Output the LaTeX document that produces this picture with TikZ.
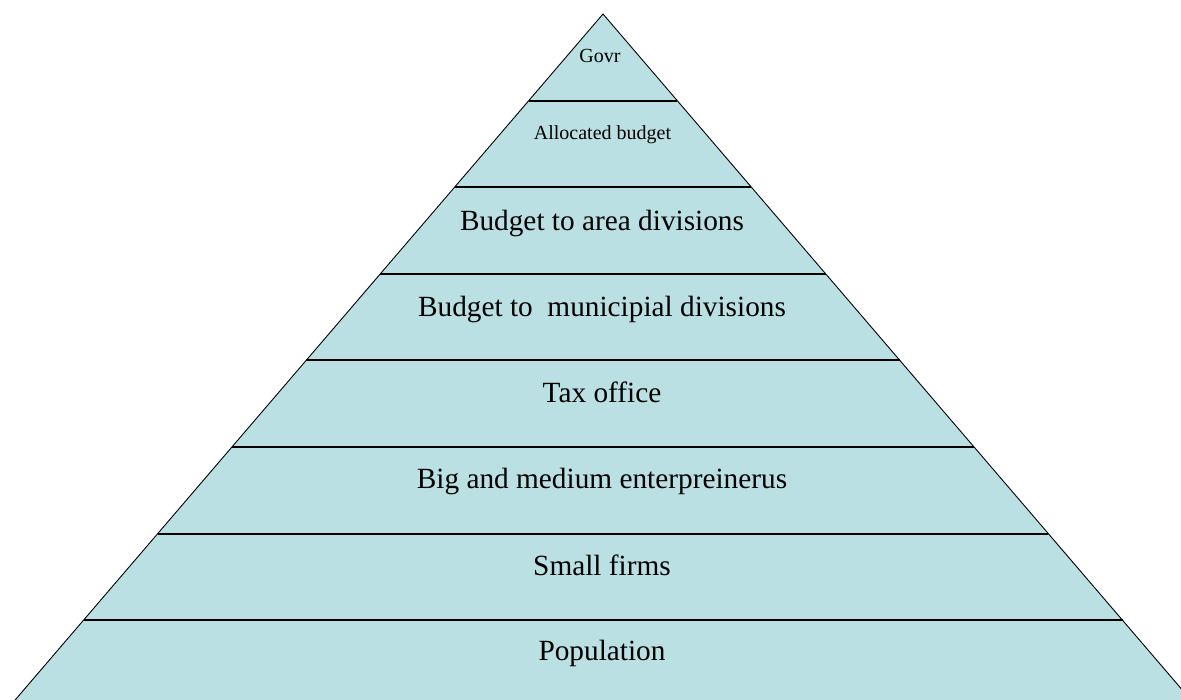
\documentclass[tikz,border=0pt]{standalone}
\usepackage{fontspec}
\setmainfont{Liberation Serif}
\definecolor{pyrfill}{RGB}{187,224,227}
\tikzset{
  smalltxt/.style={anchor=base,inner sep=0pt,font=\fontsize{20}{24}\selectfont},
  bigtxt/.style={anchor=base,inner sep=0pt,font=\fontsize{29.3}{35}\selectfont},
  divline/.style={line width=2pt,black},
  edge/.style={line width=0.9pt,black}
}
\begin{document}
\begin{tikzpicture}[x=1pt,y=-1pt]
\useasboundingbox (0,0) rectangle (1181,700);
\begin{scope}
\clip (0,0) rectangle (1181,700);
\coordinate (apex) at (603,14);
\coordinate (bl) at (9.3,706.8);
\coordinate (br) at (1196.7,706.8);
\fill[pyrfill] (apex) -- (bl) -- (br) -- cycle;
\draw[divline] (528.8,100.6) -- (677.2,100.6);
\draw[divline] (454.6,187.2) -- (751.4,187.2);
\draw[divline] (380.4,273.8) -- (825.6,273.8);
\draw[divline] (306.1,360.4) -- (899.9,360.4);
\draw[divline] (231.9,447.0) -- (974.1,447.0);
\draw[divline] (157.7,533.6) -- (1048.3,533.6);
\draw[divline] (83.5,620.2) -- (1122.5,620.2);
\draw[edge] (bl) -- (apex) -- (br);
\end{scope}
\node[smalltxt] (t1) at (600,63) {Govr};
\node[smalltxt] (t2) at (602.5,140) {Allocated budget};
\node[bigtxt] (t3) at (602,230.5) {Budget to area divisions};
\node[bigtxt] (t4) at (602,317) {Budget to~ municipial divisions};
\node[bigtxt] (t5) at (602,403) {Tax office};
\node[bigtxt] (t6) at (602,488) {Big and medium enterpreinerus};
\node[bigtxt] (t7) at (602,575) {Small firms};
\node[bigtxt] (t8) at (602,660) {Population};
\end{tikzpicture}
\end{document}
